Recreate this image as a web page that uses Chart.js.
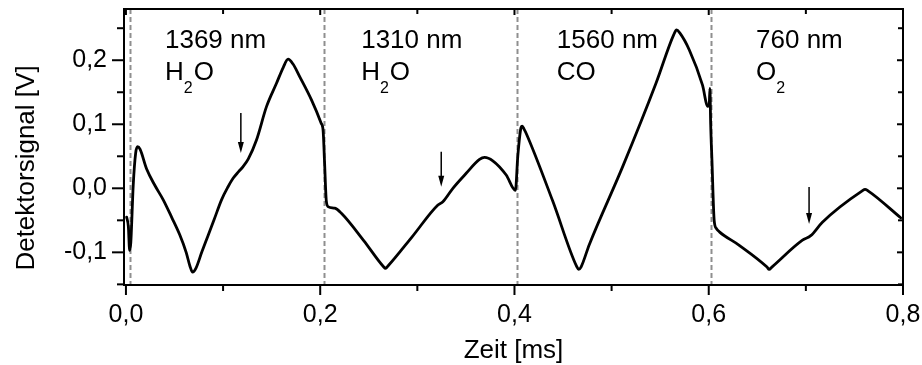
<!DOCTYPE html>
<html>
<head>
<meta charset="utf-8">
<script src="https://cdn.jsdelivr.net/npm/chart.js@4/dist/chart.umd.min.js"></script>
<style>
  html, body { margin: 0; padding: 0; background: #fff; }
  #wrap { width: 922px; height: 365px; }
</style>
</head>
<body>
<div id="wrap"><canvas id="c" width="922" height="365"></canvas></div>
<script>
// Detector signal over one modulation period (four lasers multiplexed in time)
const timeMs = [
  0.0007, 0.0025, 0.0038, 0.0050, 0.0075, 0.0100, 0.0120, 0.0145, 0.0213, 0.0300,
  0.0384, 0.0470, 0.0555, 0.0620, 0.0660, 0.0686, 0.0720, 0.0780, 0.0840, 0.0910,
  0.0984, 0.1050, 0.1103, 0.1160, 0.1206, 0.1260, 0.1344, 0.1447, 0.1550, 0.1620,
  0.1669, 0.1720, 0.1790, 0.1910, 0.2010, 0.2030, 0.2045, 0.2063, 0.2085, 0.2150,
  0.2218, 0.2450, 0.2650, 0.2673, 0.2700, 0.2950, 0.3212, 0.3263, 0.3366, 0.3503,
  0.3640, 0.3692, 0.3777, 0.3915, 0.4010, 0.4034, 0.4068, 0.4080, 0.4100, 0.4120,
  0.4394, 0.4640, 0.4661, 0.4685, 0.4770, 0.5114, 0.5457, 0.5640, 0.5669, 0.5700,
  0.5800, 0.5936, 0.5990, 0.6005, 0.6012, 0.6020, 0.6033, 0.6056, 0.6080, 0.6110,
  0.6314, 0.6600, 0.6622, 0.6650, 0.6965, 0.7050, 0.7170, 0.7580, 0.7609, 0.7640,
  0.7976
];
const signalV = [
  -0.045, -0.060, -0.097, -0.085, 0.005, 0.055, 0.065, 0.061, 0.030, 0.004,
  -0.018, -0.045, -0.073, -0.100, -0.122, -0.131, -0.125, -0.100, -0.076, -0.048,
  -0.018, 0.002, 0.0156, 0.026, 0.034, 0.046, 0.0755, 0.1275, 0.164, 0.189,
  0.2016, 0.194, 0.174, 0.138, 0.1016, 0.090, 0.040, -0.020, -0.029, -0.031,
  -0.039, -0.082, -0.122, -0.125, -0.121, -0.075, -0.026, -0.021, 0.000, 0.0234,
  0.045, 0.0484, 0.043, 0.0208, -0.003, 0.050, 0.095, 0.097, 0.092, 0.086,
  -0.020, -0.122, -0.1266, -0.123, -0.088, 0.0338, 0.164, 0.240, 0.2473, 0.243,
  0.216, 0.161, 0.128, 0.130, 0.156, 0.100, 0.044, -0.050, -0.063, -0.068,
  -0.089, -0.123, -0.1266, -0.123, -0.081, -0.074, -0.053, -0.004, -0.0016, -0.004,
  -0.046
];

// Laser switch-over times (dashed separators)
const switchTimes = [0.004, 0.2035, 0.403, 0.6025];

// Absorption line markers: time, arrow top, arrow tip
const arrowTimes = [0.1183, 0.3246, 0.7033];
const arrowTops  = [0.1177, 0.0570, 0.0020];
const arrowTips  = [0.0550, 0.0025, -0.0558];

// Channel captions: wavelength, species, subscript
const channelWavelengths = ['1369 nm', '1310 nm', '1560 nm', '760 nm'];
const channelSpecies = [['H', '2', 'O'], ['H', '2', 'O'], ['CO', '', ''], ['O', '2', '']];
const channelStart = [0.0402, 0.2422, 0.4436, 0.6487];

// Axis ticks
const xMajorTicks = [0.0, 0.2, 0.4, 0.6, 0.8];
const xMinorTicks = [0.1, 0.3, 0.5, 0.7];
const yMajorTicks = [-0.1, 0.0, 0.1, 0.2];
const yMinorTicks = [-0.15, -0.05, 0.05, 0.15, 0.25];

const FONT = '"Liberation Sans", Arial, sans-serif';
const fmt = v => (Math.abs(v) < 1e-9 ? 0 : v).toFixed(1).replace('.', ',');

const decor = {
  id: 'decor',
  beforeDatasetsDraw(chart) {
    const {ctx, chartArea: a, scales: {x}} = chart;
    ctx.save();
    ctx.strokeStyle = '#8f8f8f';
    ctx.lineWidth = 2;
    ctx.setLineDash([5, 3]);
    switchTimes.forEach(t => {
      const px = Math.round(x.getPixelForValue(t)) + 0.5;
      ctx.beginPath();
      ctx.moveTo(px, a.top);
      ctx.lineTo(px, a.bottom);
      ctx.stroke();
    });
    ctx.restore();
  },
  afterDraw(chart) {
    const {ctx, chartArea: a, scales: {x, y}} = chart;
    ctx.save();
    ctx.strokeStyle = '#000';
    ctx.fillStyle = '#000';
    ctx.lineWidth = 2;
    ctx.setLineDash([]);
    // frame
    ctx.strokeRect(a.left, a.top, a.right - a.left, a.bottom - a.top);
    // bottom & top ticks
    const tick = (x1, y1, x2, y2) => { ctx.beginPath(); ctx.moveTo(x1, y1); ctx.lineTo(x2, y2); ctx.stroke(); };
    xMajorTicks.forEach(v => { const p = x.getPixelForValue(v); tick(p, a.bottom, p, a.bottom + 10); tick(p, a.top, p, a.top + 6); });
    xMinorTicks.forEach(v => { const p = x.getPixelForValue(v); tick(p, a.bottom, p, a.bottom + 6); tick(p, a.top, p, a.top + 5); });
    // left & right ticks
    yMajorTicks.forEach(v => { const p = y.getPixelForValue(v); tick(a.left - 12, p, a.left, p); tick(a.right - 6, p, a.right, p); });
    yMinorTicks.forEach(v => { const p = y.getPixelForValue(v); tick(a.left - 7, p, a.left, p); tick(a.right - 5, p, a.right, p); });

    // arrows
    ctx.lineWidth = 1.5;
    arrowTimes.forEach((t, i) => {
      const px = x.getPixelForValue(t);
      const y0 = y.getPixelForValue(arrowTops[i]);
      const y1 = y.getPixelForValue(arrowTips[i]);
      tick(px, y0, px, y1 - 8);
      ctx.beginPath();
      ctx.moveTo(px, y1);
      ctx.lineTo(px - 3, y1 - 11);
      ctx.lineTo(px + 3, y1 - 11);
      ctx.closePath();
      ctx.fill();
    });

    // channel captions
    ctx.textBaseline = 'alphabetic';
    ctx.textAlign = 'left';
    channelWavelengths.forEach((w, i) => {
      const px = x.getPixelForValue(channelStart[i]);
      ctx.font = '26px ' + FONT;
      ctx.fillText(w, px, a.top + 39);
      const [main, sub, rest] = channelSpecies[i];
      let cx = px;
      ctx.fillText(main, cx, a.top + 71);
      cx += ctx.measureText(main).width;
      if (sub) {
        ctx.font = '16px ' + FONT;
        ctx.fillText(sub, cx, a.top + 84);
        cx += ctx.measureText(sub).width + 1;
      }
      if (rest) {
        ctx.font = '26px ' + FONT;
        ctx.fillText(rest, cx, a.top + 71);
      }
    });

    // axis titles
    ctx.font = '26px ' + FONT;
    ctx.textAlign = 'center';
    ctx.fillText('Zeit [ms]', (a.left + a.right) / 2, 358);
    ctx.translate(34, 168);
    ctx.rotate(-Math.PI / 2);
    ctx.fillText('Detektorsignal [V]', 0, 0);
    ctx.restore();
  }
};

new Chart(document.getElementById('c'), {
  type: 'line',
  data: {
    datasets: [{
      data: timeMs.map((t, i) => ({x: t, y: signalV[i]})),
      borderColor: '#000',
      borderWidth: 2.8,
      pointRadius: 0,
      fill: false,
      cubicInterpolationMode: 'monotone',
      borderJoinStyle: 'round',
      borderCapStyle: 'round'
    }]
  },
  options: {
    responsive: false,
    animation: false,
    events: [],
    layout: {padding: {top: 9, right: 19, left: 0, bottom: 0}},
    plugins: {legend: {display: false}, tooltip: {enabled: false}, title: {display: false}},
    scales: {
      x: {
        type: 'linear',
        min: -0.002,
        max: 0.8,
        afterBuildTicks: s => { s.ticks = xMajorTicks.map(v => ({value: v})); },
        afterFit: s => { s.height = 80; s.paddingLeft = 0; s.paddingRight = 0; },
        grid: {display: false, drawTicks: false},
        border: {display: false},
        ticks: {
          padding: 15,
          color: '#000',
          font: {family: FONT, size: 25},
          maxRotation: 0,
          autoSkip: false,
          callback: v => fmt(v)
        }
      },
      y: {
        type: 'linear',
        min: -0.151,
        max: 0.28,
        afterBuildTicks: s => { s.ticks = yMajorTicks.map(v => ({value: v})); },
        afterFit: s => { s.width = 124; s.paddingTop = 0; s.paddingBottom = 0; },
        grid: {display: false, drawTicks: false},
        border: {display: false},
        ticks: {
          padding: 17,
          color: '#000',
          font: {family: FONT, size: 25},
          autoSkip: false,
          callback: v => fmt(v)
        }
      }
    }
  },
  plugins: [decor]
});
</script>
</body>
</html>
